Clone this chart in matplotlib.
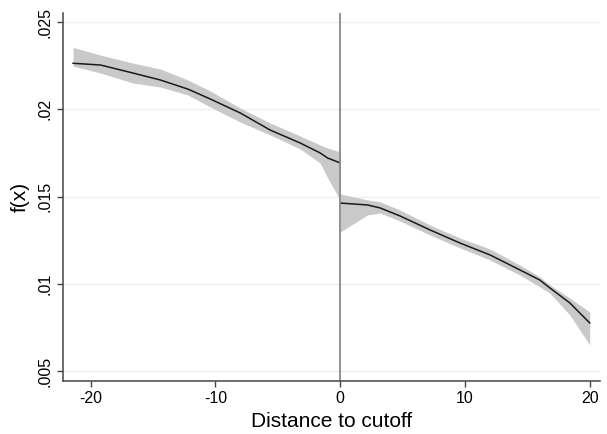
import matplotlib.pyplot as plt
import numpy as np

# datos: lado izquierdo del corte
x_izq = [-21.4, -19.2, -16.6, -14.4, -12.2, -10.4, -8.0, -5.6, -3.2, -1.6, -1.0, 0.0]
f_izq = [0.02264, 0.02254, 0.02208, 0.02168, 0.02116, 0.02059, 0.01979, 0.01881, 0.01807, 0.0175, 0.01721, 0.01693]
sup_izq = [0.02355, 0.02311, 0.02265, 0.02231, 0.02168, 0.02105, 0.02007, 0.01922, 0.01847, 0.01796, 0.01778, 0.01756]
inf_izq = [0.02248, 0.02208, 0.02151, 0.02128, 0.02082, 0.02013, 0.01927, 0.01853, 0.01773, 0.01692, 0.01607, 0.01481]

# lado derecho del corte
x_der = [0.0, 2.2, 3.2, 4.8, 7.2, 9.6, 12.0, 14.4, 16.0, 16.8, 18.4, 20.0]
f_der = [0.01463, 0.01452, 0.01435, 0.01389, 0.01309, 0.01234, 0.01166, 0.0108, 0.01022, 0.00977, 0.00891, 0.00776]
sup_der = [0.01515, 0.01481, 0.0147, 0.01423, 0.01337, 0.01263, 0.012, 0.01108, 0.0104, 0.00994, 0.00919, 0.00839]
inf_der = [0.01297, 0.01395, 0.01406, 0.0136, 0.0128, 0.01206, 0.01137, 0.01051, 0.00982, 0.00948, 0.00822, 0.0065]

xticks = [-20, -10, 0, 10, 20]
yticks = [0.005, 0.01, 0.015, 0.02, 0.025]
ylabels = ['.005', '.01', '.015', '.02', '.025']

plt.rcParams['font.family'] = ['Liberation Sans', 'DejaVu Sans']
plt.rcParams['axes.unicode_minus'] = False

fig = plt.figure(figsize=(6.07, 4.34), dpi=100)
ax = fig.add_axes([0.104, 0.122, 0.884, 0.848])

# bandas de confianza y curvas
ax.fill_between(x_izq, inf_izq, sup_izq, color='#c9c9c9', lw=0)
ax.fill_between(x_der, inf_der, sup_der, color='#c9c9c9', lw=0)
ax.plot(x_izq, f_izq, color='#1a1a1a', lw=1.1)
ax.plot(x_der, f_der, color='#1a1a1a', lw=1.1)

# linea del corte
ax.axvline(0, color='#8a8a8a', lw=1.3)

ax.set_xlim(-22.2, 20.8)
ax.set_ylim(0.00443, 0.02552)
ax.set_xticks(xticks)
ax.set_yticks(yticks)
ax.set_yticklabels(ylabels, rotation=90, va='center')
ax.tick_params(labelsize=11.5, length=4, color='#444444', width=1)
ax.grid(axis='y', color='#eeeeee', lw=0.9)
ax.set_axisbelow(True)

for s in ['top', 'right']:
    ax.spines[s].set_visible(False)
for s in ['left', 'bottom']:
    ax.spines[s].set_color('#444444')
    ax.spines[s].set_linewidth(1.1)

ax.set_xlabel('Distance to cutoff', fontsize=15, labelpad=4)
ax.set_ylabel('f(x)', fontsize=15, labelpad=6)

plt.savefig('out.png', dpi=100)
plt.close()
